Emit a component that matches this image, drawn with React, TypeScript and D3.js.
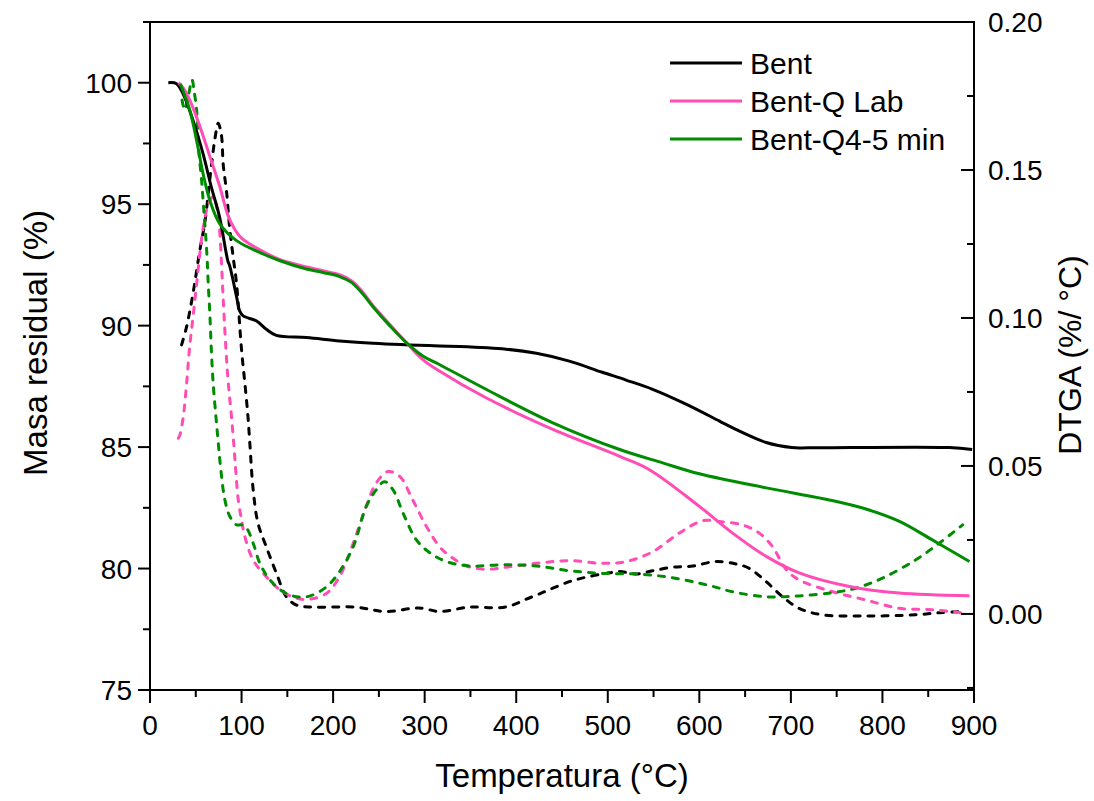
import React from "react";
import * as d3 from "d3";

// ---- Data ----
const bentMassT = [20, 29, 36, 47, 58, 67, 76, 85, 87, 94.5, 98, 101.8, 116.4, 127, 138, 171, 207, 243.6, 316, 338, 389, 422, 458, 494, 520, 549, 586, 622, 636, 673, 701, 720, 873, 898];
const bentMass = [100, 99.96, 99.55, 98.45, 97.07, 95.7, 94.47, 92.67, 92.47, 91.2, 90.6, 90.4, 90.19, 89.85, 89.6, 89.51, 89.37, 89.27, 89.16, 89.14, 89.03, 88.86, 88.54, 88.08, 87.76, 87.38, 86.76, 86.07, 85.8, 85.19, 84.98, 84.97, 84.98, 84.9];

const labMassT = [31, 36, 43.6, 54.5, 65.5, 76.4, 85, 92, 100, 116, 142, 171, 190, 207, 220, 232, 243, 262, 280, 298, 316, 367, 440, 513, 545, 600, 636, 673, 709, 764, 818, 895];
const labMass = [100, 99.8, 99.27, 98.2, 96.95, 95.7, 94.55, 94.0, 93.6, 93.2, 92.72, 92.42, 92.25, 92.1, 91.85, 91.4, 90.85, 90.05, 89.3, 88.6, 88.13, 87.03, 85.73, 84.62, 84.08, 82.56, 81.47, 80.5, 79.82, 79.26, 78.99, 78.88];

const q4MassT = [33, 36, 43.6, 51, 58, 65.5, 76.4, 94.5, 116, 142, 171, 190, 207, 220, 232, 243, 262, 280, 298, 316, 367, 440, 513, 560, 600, 673, 745, 782, 818, 854, 895];
const q4Mass = [99.95, 99.67, 98.85, 97.6, 96.25, 95.14, 94.18, 93.5, 93.08, 92.67, 92.33, 92.18, 92.02, 91.78, 91.32, 90.8, 89.99, 89.3, 88.75, 88.4, 87.38, 86.0, 84.9, 84.35, 83.9, 83.32, 82.8, 82.45, 81.95, 81.19, 80.29];

const bentDtgaT = [34.5, 40, 47, 54.5, 60, 65.5, 71, 74.5, 78, 80, 83.6, 87, 91, 94.5, 100, 103.6, 107, 109, 112.7, 118, 127, 138, 149, 160, 178, 225, 258, 287, 298, 316, 349, 382, 396, 411, 425.5, 440, 458, 476, 498, 513, 531, 549, 571, 593, 618, 640, 654.5, 673, 691, 709, 734.5, 782, 836, 862, 891];
const bentDtga = [0.0909, 0.0971, 0.1083, 0.123, 0.1325, 0.1473, 0.1607, 0.1658, 0.1618, 0.1517, 0.1427, 0.1304, 0.1202, 0.1117, 0.0892, 0.078, 0.0667, 0.0578, 0.0419, 0.0306, 0.0227, 0.0138, 0.0058, 0.003, 0.0023, 0.0023, 0.0008, 0.0019, 0.0019, 0.0008, 0.0023, 0.0021, 0.003, 0.005, 0.0068, 0.0087, 0.0109, 0.0124, 0.0137, 0.0143, 0.0135, 0.0146, 0.0158, 0.0162, 0.0177, 0.0169, 0.0154, 0.0109, 0.0058, 0.0019, -0.0003, -0.0007, -0.0003, 0.0004, 0.0008];

const labDtgaT = [31, 32.7, 36.4, 40, 43, 47, 51, 54.5, 58, 63.6, 69, 74.5, 76.4, 78, 80, 83, 85.5, 89, 92, 94, 96.4, 100, 103.6, 112.7, 127, 142, 160, 175, 193, 207, 222, 236, 247, 260, 273, 287, 302, 316, 323.6, 345.5, 367, 389, 422, 458, 494.5, 520, 549, 578, 603.6, 622, 647, 665.5, 680, 695, 709, 745.5, 782, 818, 854.5, 891];
const labDtga = [0.0594, 0.0605, 0.0667, 0.0779, 0.0892, 0.1004, 0.1117, 0.122, 0.1303, 0.1382, 0.141, 0.1348, 0.128, 0.119, 0.1061, 0.0892, 0.078, 0.0667, 0.0554, 0.047, 0.0385, 0.0318, 0.0261, 0.0182, 0.0126, 0.0081, 0.0053, 0.005, 0.007, 0.0126, 0.0239, 0.0362, 0.0442, 0.0481, 0.0464, 0.0385, 0.0295, 0.0228, 0.0205, 0.0162, 0.0151, 0.0158, 0.0171, 0.018, 0.0171, 0.0177, 0.021, 0.0273, 0.0315, 0.0312, 0.0301, 0.0273, 0.0227, 0.0149, 0.0115, 0.0075, 0.0047, 0.0019, 0.0014, 0.0002];

const q4DtgaT = [35, 38, 42, 46, 48, 51, 53, 56.4, 58, 62, 63.6, 65.5, 67, 69, 72, 74.5, 77, 81.8, 87.3, 94.5, 100, 105.5, 112.7, 120, 131, 145.5, 160, 175, 193, 207, 222, 236, 247, 256, 265.5, 276.5, 291, 305.5, 323.6, 349, 385, 422, 458, 494.5, 531, 567, 600, 622, 636, 673, 709, 745.5, 771, 800, 836, 862, 887.6];
const q4Dtga = [0.1736, 0.1703, 0.1753, 0.1804, 0.177, 0.17, 0.1576, 0.1464, 0.1396, 0.1223, 0.1117, 0.1004, 0.0892, 0.0779, 0.0667, 0.058, 0.0498, 0.0385, 0.0329, 0.0301, 0.0301, 0.029, 0.0239, 0.0171, 0.0115, 0.0075, 0.0058, 0.0061, 0.0092, 0.0143, 0.0227, 0.0362, 0.0419, 0.0447, 0.0419, 0.034, 0.025, 0.0207, 0.0177, 0.0162, 0.0166, 0.0162, 0.0146, 0.0137, 0.0135, 0.0124, 0.0104, 0.0087, 0.0075, 0.0058, 0.0061, 0.0072, 0.0087, 0.0121, 0.0182, 0.0239, 0.0301];

const xTicks = [0, 100, 200, 300, 400, 500, 600, 700, 800, 900];
const leftTicks = [75, 80, 85, 90, 95, 100];
const rightTicks = [0, 0.05, 0.1, 0.15, 0.2];
const seriesNames = ["Bent", "Bent-Q Lab", "Bent-Q4-5 min"];
const seriesColors = ["#000000", "#ff4db5", "#008c00"];

// ---- Layout ----
const W = 1094, H = 801;
const L = 150, R = 974, T = 22, B = 690;
const FONT = "Arial, 'Liberation Sans', Helvetica, sans-serif";

const x = d3.scaleLinear().domain([0, 900]).range([L, R]);
const yL = d3.scaleLinear().domain([75, 102.5]).range([B, T]);
const yR = d3.scaleLinear().domain([-0.0257, 0.2]).range([B, T]);

const zip = (a: number[], b: number[]) => a.map((v, i) => [v, b[i]] as [number, number]);

const lineL = d3.line<[number, number]>().x(d => x(d[0])).y(d => yL(d[1])).curve(d3.curveCatmullRom.alpha(0.5));
const lineR = d3.line<[number, number]>().x(d => x(d[0])).y(d => yR(d[1])).curve(d3.curveCatmullRom.alpha(0.5));

const massSeries = [zip(bentMassT, bentMass), zip(labMassT, labMass), zip(q4MassT, q4Mass)];
const dtgaSeries = [zip(bentDtgaT, bentDtga), zip(labDtgaT, labDtga), zip(q4DtgaT, q4Dtga)];

const mids = (t: number[]) => {
  const out: number[] = [];
  for (let i = 0; i < t.length - 1; i++) out.push((t[i] + t[i + 1]) / 2);
  return out;
};

export default function App() {
  const xMinor = mids(xTicks);
  const lMinor = [...mids(leftTicks), 102.5];
  const rMinor = [-0.025, ...mids(rightTicks)];
  return (
    <svg width={W} height={H} style={{ position: "absolute", left: 0, top: 0, background: "#fff" }} fontFamily={FONT}>
      <rect x={0} y={0} width={W} height={H} fill="#fff" />
      {/* dashed DTGA curves */}
      {dtgaSeries.map((s, i) => (
        <path key={"d" + i} d={lineR(s) || ""} fill="none" stroke={seriesColors[i]} strokeWidth={3}
          strokeDasharray="6,8" strokeLinecap="round" />
      ))}
      {/* solid mass curves */}
      {massSeries.map((s, i) => (
        <path key={"m" + i} d={lineL(s) || ""} fill="none" stroke={seriesColors[i]} strokeWidth={3} strokeLinejoin="round" />
      ))}
      {/* frame */}
      <rect x={L} y={T} width={R - L} height={B - T} fill="none" stroke="#000" strokeWidth={2} />
      {/* x ticks */}
      {xTicks.map(t => (
        <g key={"xt" + t}>
          <line x1={x(t)} x2={x(t)} y1={B} y2={B + 13} stroke="#000" strokeWidth={2} />
          <text x={x(t)} y={735} fontSize={28} textAnchor="middle" fill="#000">{t}</text>
        </g>
      ))}
      {xMinor.map(t => (
        <line key={"xm" + t} x1={x(t)} x2={x(t)} y1={B} y2={B + 7} stroke="#000" strokeWidth={2} />
      ))}
      {/* left ticks */}
      {leftTicks.map(t => (
        <g key={"lt" + t}>
          <line x1={L - 12} x2={L} y1={yL(t)} y2={yL(t)} stroke="#000" strokeWidth={2} />
          <text x={L - 18} y={yL(t)} dy="0.36em" fontSize={28} textAnchor="end" fill="#000">{t}</text>
        </g>
      ))}
      {lMinor.map(t => (
        <line key={"lm" + t} x1={L - 7} x2={L} y1={yL(t)} y2={yL(t)} stroke="#000" strokeWidth={2} />
      ))}
      {/* right ticks (inward) */}
      {rightTicks.map(t => (
        <g key={"rt" + t}>
          <line x1={R - 13} x2={R} y1={yR(t)} y2={yR(t)} stroke="#000" strokeWidth={2} />
          <text x={988} y={yR(t)} dy="0.36em" fontSize={28} textAnchor="start" fill="#000">{t.toFixed(2)}</text>
        </g>
      ))}
      {rMinor.map(t => (
        <line key={"rm" + t} x1={R - 7} x2={R} y1={yR(t)} y2={yR(t)} stroke="#000" strokeWidth={2} />
      ))}
      {/* axis titles */}
      <text x={(L + R) / 2} y={787} fontSize={33} textAnchor="middle" fill="#000">Temperatura (°C)</text>
      <text transform={`translate(47,343) rotate(-90)`} fontSize={33} textAnchor="middle" fill="#000">Masa residual (%)</text>
      <text transform={`translate(1081,355) rotate(-90)`} fontSize={32} textAnchor="middle" fill="#000">DTGA (%/ °C)</text>
      {/* legend */}
      {seriesNames.map((n, i) => (
        <g key={"lg" + i}>
          <line x1={670} x2={742} y1={63 + i * 38} y2={63 + i * 38} stroke={seriesColors[i]} strokeWidth={3} />
          <text x={750} y={63 + i * 38} dy="0.36em" fontSize={30} fill="#000">{n}</text>
        </g>
      ))}
    </svg>
  );
}
